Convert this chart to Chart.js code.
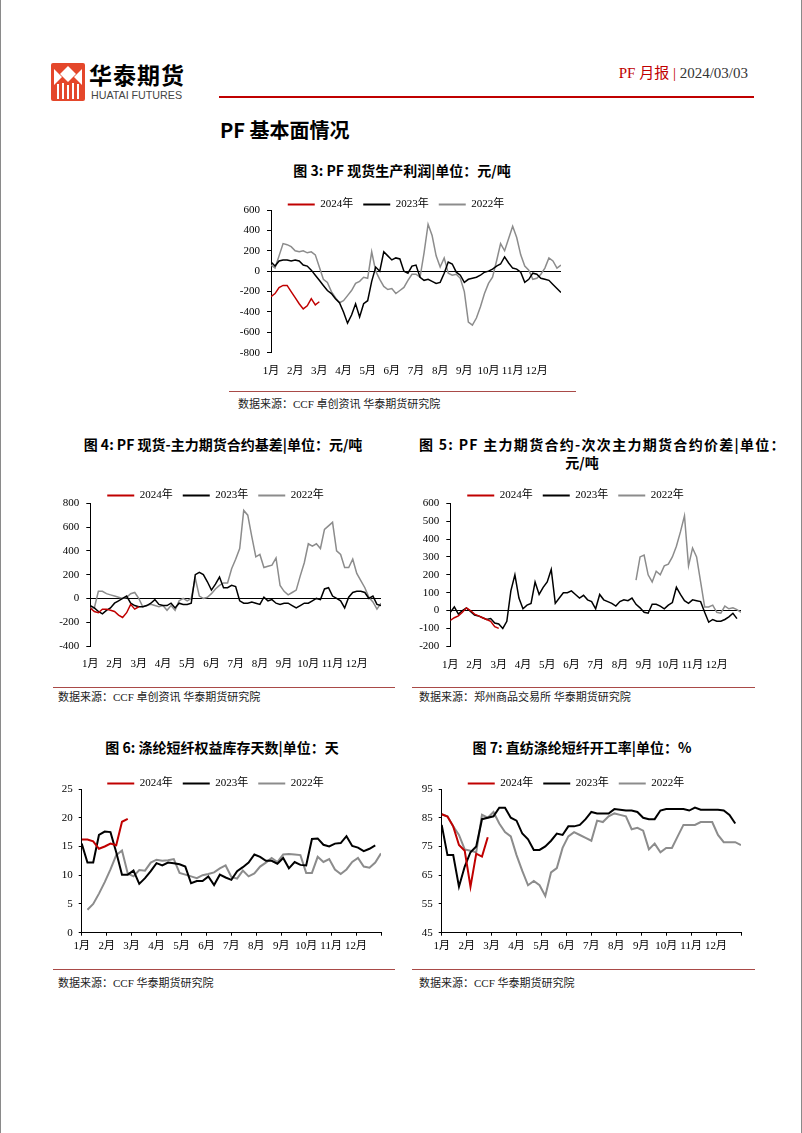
<!DOCTYPE html>
<html lang="zh-CN">
<head>
<meta charset="utf-8">
<title>PF 月报</title>
<script src="https://cdn.jsdelivr.net/npm/chart.js@4.4.1/dist/chart.umd.min.js"></script>
<style>
  html, body { margin: 0; padding: 0; background: #fff; }
  #page { position: relative; width: 802px; height: 1133px; overflow: hidden;
          box-sizing: border-box; border-left: 1px solid #8a8a8a; border-right: 1px solid #8a8a8a;
          font-family: "Noto Sans CJK SC", sans-serif; color: #000; }
  .abs { position: absolute; white-space: nowrap; }
  .brand { left: 88px; top: 60px; font-size: 23px; font-weight: 700; letter-spacing: 1px; line-height: 28px; }
  .brand-en { left: 90px; top: 89px; font-family: "Liberation Sans", sans-serif; font-size: 10.7px; color: #444; line-height: 12px; }
  .hdr { right: 53px; top: 63px; font-family: "Liberation Serif", "Noto Sans CJK SC", serif; font-size: 15px; line-height: 20px; color: #333; }
  .hdr .red { color: #c00000; }
  .rule { left: 218px; top: 96px; width: 535px; height: 2px; background: #c00000; }
  .section { left: 219px; top: 117px; font-size: 20px; font-weight: 700; line-height: 26px; }
  .ftitle { font-size: 14px; font-weight: 700; line-height: 18px; text-align: center; transform: translateX(-50%); }
  .ftitle.wide { transform: none; letter-spacing: 1.3px; }
  .src { font-family: "Liberation Serif", "Noto Sans CJK SC", serif; font-size: 11px; line-height: 14px; color: #222; }
  .srcline { height: 1px; background: #a94a47; }
  canvas { position: absolute; }
</style>
</head>
<body>
<div id="page">
  <svg class="abs" style="left:50px;top:63px" width="34" height="38" viewBox="0 0 34 38">
    <rect width="34" height="38" rx="2" fill="#e4472b"/>
    <path d="M17 3 L25 11 L17 19 L9 11 Z" fill="#fff"/>
    <path d="M3 6 L11 14 L3 22 Z" fill="#fff"/>
    <path d="M31 6 L23 14 L31 22 Z" fill="#fff"/>
    <rect x="6" y="21" width="2" height="15" fill="#fff"/>
    <rect x="11" y="20" width="2" height="16" fill="#fff"/>
    <rect x="16" y="22" width="2" height="14" fill="#fff"/>
    <rect x="21" y="20" width="2" height="16" fill="#fff"/>
    <rect x="26" y="21" width="2" height="15" fill="#fff"/>
  </svg>
  <div class="abs brand">华泰期货</div>
  <div class="abs brand-en">HUATAI FUTURES</div>
  <div class="abs hdr"><span class="red">PF 月报 | </span>2024/03/03</div>
  <div class="abs rule"></div>
  <div class="abs section">PF 基本面情况</div>

  <div class="abs ftitle" style="left:401px;top:161px">图 3: PF 现货生产利润|单位：元/吨</div>
  <div class="abs ftitle" style="left:222px;top:435px">图 4: PF 现货-主力期货合约基差|单位：元/吨</div>
  <div class="abs ftitle wide" style="left:418px;top:435px">图 5: PF 主力期货合约-次次主力期货合约价差|单位：</div>
  <div class="abs ftitle" style="left:581px;top:453px">元/吨</div>
  <div class="abs ftitle" style="left:221px;top:738px">图 6: 涤纶短纤权益库存天数|单位：天</div>
  <div class="abs ftitle" style="left:581px;top:738px">图 7: 直纺涤纶短纤开工率|单位：%</div>

  <canvas id="c3"></canvas>
  <canvas id="c4"></canvas>
  <canvas id="c5"></canvas>
  <canvas id="c6"></canvas>
  <canvas id="c7"></canvas>

  <div class="abs srcline" style="left:228px;top:391px;width:347px"></div>
  <div class="abs src" style="left:237px;top:397px">数据来源：CCF 卓创资讯 华泰期货研究院</div>
  <div class="abs srcline" style="left:52px;top:687px;width:342px"></div>
  <div class="abs src" style="left:57px;top:690px">数据来源：CCF 卓创资讯 华泰期货研究院</div>
  <div class="abs srcline" style="left:411px;top:687px;width:343px"></div>
  <div class="abs src" style="left:418px;top:690px">数据来源：郑州商品交易所 华泰期货研究院</div>
  <div class="abs srcline" style="left:52px;top:969px;width:342px"></div>
  <div class="abs src" style="left:57px;top:976px">数据来源：CCF 华泰期货研究院</div>
  <div class="abs srcline" style="left:411px;top:969px;width:343px"></div>
  <div class="abs src" style="left:418px;top:976px">数据来源：CCF 华泰期货研究院</div>
</div>

<script>
// x 轴单位为月（0 = 1月初），日度数据约每 5 天一个点，周度数据每周一个点
const monthLabels = ['1月', '2月', '3月', '4月', '5月', '6月', '7月', '8月', '9月', '10月', '11月', '12月'];
const dayStep = 1 / 6;
const weekStep = 12 / 52;

// 图3 现货生产利润
const profit2024 = [-250, -220, -160, -140, -140, -200, -260, -320, -370, -340, -270, -330, -300];
const profit2023 = [90, 50, 100, 110, 110, 100, 110, 100, 60, 50, 10, -40, -90, -140, -190, -220, -270, -310, -400, -510,
  -430, -320, -450, -320, -290, -100, 40, 0, 190, 150, 110, 130, 120, 0, -20, 50, 60, -60, -90, -80,
  -100, -120, -110, -20, 90, 70, -10, -40, -110, -80, -70, -60, -40, -10, 0, 20, 50, 70, 140, 80,
  30, 20, -10, -110, -80, -20, -30, -70, -80, -90, -130, -170, -210];
const profit2022 = [60, 30, 150, 270, 260, 240, 200, 190, 200, 180, 190, 160, 40, -80, -110, -200, -260, -310, -290, -240,
  -190, -120, -100, -60, -70, 190, 0, -80, -150, -180, -170, -220, -190, -160, -90, -30, -30, -60, 180, 460,
  350, 150, 40, 130, -20, -40, -30, -70, -200, -500, -530, -460, -350, -220, -120, -60, 100, 270, 200, 320,
  440, 330, 160, 50, 10, -80, -70, -30, 30, 130, 100, 30, 60];

// 图4 现货-主力合约基差
const basis2024 = [-80, -110, -120, -90, -90, -100, -110, -140, -160, -120, -50, -90, -70];
const basis2023 = [-60, -80, -110, -130, -100, -80, -40, -20, 0, 20, -40, -60, -70, -70, -60, -40, -10, -50, -60, -60,
  -40, -80, -40, -50, -50, -40, 200, 220, 200, 140, 70, 120, 180, 90, 90, 110, 100, -20, -40, -40,
  -30, -40, -50, 10, -20, -10, -40, -50, -40, -40, -60, -80, -60, -40, -40, -20, 0, -10, 80, 90,
  20, 0, -20, -80, 10, 50, 60, 60, 50, 0, 20, -50, -60];
const basis2022 = [-80, -80, 60, 60, 40, 30, 20, 10, 0, 10, 40, 50, 0, -70, -60, -50, -60, -70, -60, -100,
  -60, -100, -20, 0, -20, 0, 170, 20, 0, 10, 40, 80, 110, 130, 130, 250, 330, 420, 740, 700,
  520, 350, 370, 260, 270, 280, 340, 110, 60, 30, 50, 70, 190, 300, 460, 440, 460, 420, 580, 610,
  640, 400, 370, 260, 260, 330, 210, 150, 90, 10, -30, -90, -40];

// 图5 主力-次次主力价差
const spread2024 = [-55, -40, -30, -10, 15, 0, -20, -30, -40, -50, -60, -90, -100];
const spread2023 = [-10, 20, -20, 0, 15, -5, -25, -30, -40, -50, -45, -70, -75, -100, -60, 110, 200, 70, 10, 30,
  40, 160, 90, 130, 160, 230, 40, 70, 100, 100, 110, 90, 70, 85, 60, 50, 10, 90, 60, 50,
  40, 25, 50, 60, 55, 70, 35, 15, -10, -15, 35, 35, 25, 10, 30, 45, 130, 90, 55, 40,
  60, 55, 50, -10, -65, -50, -60, -60, -50, -35, -15, -45];
const spread2022Start = 46;
const spread2022 = [170, 300, 310, 200, 160, 220, 200, 250, 260, 300, 360, 440, 530, 250, 350, 300, 160, 20, 20, 30,
  -10, -15, 25, 10, 15, 5, -10];

// 图6 权益库存天数（周度）
const stock2024 = [16.2, 16.2, 15.9, 14.6, 15.0, 15.5, 15.2, 19.3, 19.8];
const stock2023 = [15.5, 12.2, 12.2, 17.0, 17.6, 17.5, 14.0, 10.1, 10.1, 10.8, 8.5, 9.5, 10.7, 12.1, 11.7, 12.2, 12.1, 11.9, 11.5, 8.6,
  9.0, 9.0, 9.8, 8.3, 10.1, 9.6, 9.2, 10.7, 11.4, 12.2, 13.6, 13.2, 12.5, 12.5, 12.0, 13.0, 11.2, 12.3, 11.8, 11.7,
  16.3, 16.4, 15.3, 15.0, 15.5, 15.6, 16.8, 15.1, 14.8, 14.2, 14.6, 15.2];
const stock2022Start = 1;
const stock2022 = [4.0, 5.0, 6.8, 8.8, 11.0, 13.5, 14.3, 10.3, 9.8, 10.9, 10.8, 12.2, 12.7, 12.5, 12.6, 12.8, 10.4, 10.1, 9.8, 9.5,
  10.0, 10.2, 10.5, 11.2, 11.7, 9.7, 9.4, 10.8, 9.8, 10.3, 11.5, 12.2, 13.0, 12.3, 13.6, 13.7, 13.6, 13.5, 10.4, 10.4,
  13.2, 12.3, 12.8, 11.0, 10.2, 11.0, 12.3, 13.0, 11.5, 11.3, 12.2, 13.8];

// 图7 直纺涤短开工率（周度）
const rate2024 = [86.2, 85.4, 82.0, 75.5, 73.5, 61.0, 72.5, 71.5, 78.2];
const rate2023 = [82.5, 72, 72, 61, 68, 73, 75, 84.5, 85, 85.5, 88.5, 88.5, 85, 84, 79.5, 77.5, 73.8, 73.8, 75, 77,
  79.5, 79, 82, 82, 82.5, 84.5, 87, 86.5, 86.5, 86.5, 88, 87.8, 87.5, 87.5, 87, 85, 84.5, 84.5, 87.5, 88,
  88, 88, 88, 87.5, 88.5, 87.8, 87.8, 87.8, 87.8, 87.5, 86, 83];
const rate2022 = [86.2, 85.5, 82, 79, 74, 73.5, 73, 86, 85, 87, 83, 80, 78.5, 72, 66.5, 61.5, 63, 61.5, 57.8, 66,
  67.5, 74.5, 78.5, 80, 79, 78, 77, 84, 83.5, 85.5, 86.5, 86, 85.5, 81, 81.5, 80.5, 74, 76, 73, 74.5,
  74.5, 78.5, 82.5, 82.5, 82.5, 83.5, 83.5, 83.5, 79, 76.5, 76.5, 76.5, 75.5];

const FONT = '"Liberation Serif", "Noto Sans CJK SC", serif';
const RED = '#c00000';
const BLACK = '#000000';
const GRAY = '#8c8c8c';

Chart.defaults.color = '#000';
Chart.defaults.font.family = FONT;
Chart.defaults.font.size = 11;

function toPoints(values, step, start) {
  return values.map((v, i) => ({ x: (start + i) * step, y: v }));
}

function series(label, values, color, width, step, start = 0) {
  return {
    label,
    data: toPoints(values, step, start),
    borderColor: color,
    backgroundColor: color,
    borderWidth: width,
    pointRadius: 0,
    tension: 0
  };
}

// plot: 绘图区在页面上的位置；legend: 图例中心（画布左右对称于图例中心）
function drawChart(id, plot, legend, yScale, datasets, daily) {
  const R = Math.round(plot.r + 16);
  const L = Math.round(2 * legend.x - R);
  const T = Math.floor(legend.y - 15.5);
  const B = Math.ceil(plot.b + 24);
  const yWidth = plot.l - L;
  const legendH = plot.t - T;
  const xHeight = B - plot.b;

  const canvas = document.getElementById(id);
  canvas.width = R - L;
  canvas.height = B - T;
  canvas.style.left = L + 'px';
  canvas.style.top = T + 'px';

  new Chart(canvas, {
    type: 'line',
    data: { datasets },
    options: {
      responsive: false,
      animation: false,
      devicePixelRatio: 1,
      layout: { padding: { left: 0, right: R - plot.r, top: 0, bottom: 0 } },
      plugins: {
        tooltip: { enabled: false },
        legend: {
          position: 'top',
          labels: {
            boxWidth: 27,
            boxHeight: 2,
            padding: 10,
            color: '#000',
            font: { family: FONT, size: 11 },
            generateLabels: (chart) =>
              Chart.defaults.plugins.legend.labels.generateLabels(chart).map(l => ({ ...l, lineWidth: 0 }))
          }
        }
      },
      scales: {
        x: {
          type: 'linear',
          min: 0,
          max: 12,
          afterFit: (s) => { s.height = xHeight; },
          border: { display: !daily, color: '#000', width: 1 },
          grid: daily
            ? { display: false }
            : { display: true, drawOnChartArea: false, color: '#000', tickColor: '#000', tickLength: 3 },
          ticks: {
            stepSize: 1,
            autoSkip: false,
            maxRotation: 0,
            padding: 4,
            font: { family: FONT, size: 11 },
            callback: (v) => monthLabels[v] || ''
          }
        },
        y: {
          min: yScale.min,
          max: yScale.max,
          afterFit: (s) => { s.width = yWidth; },
          border: { display: true, color: '#000', width: 1 },
          grid: daily
            ? { color: (c) => (c.tick && c.tick.value === 0 ? '#000' : 'rgba(0,0,0,0)'), tickColor: '#000', tickLength: 4 }
            : { drawOnChartArea: false, color: '#000', tickColor: '#000', tickLength: 3 },
          ticks: {
            stepSize: yScale.step,
            padding: daily ? 7 : 6,
            font: { family: FONT, size: 11 }
          }
        }
      }
    },
    plugins: [{
      id: 'legendHeight',
      beforeInit(chart) {
        const fit = chart.legend.fit;
        chart.legend.fit = function () {
          fit.call(this);
          this.height = legendH;
        };
      }
    }]
  });
}

drawChart('c3', { l: 270, r: 560, t: 210, b: 352.7 }, { x: 403, y: 205 }, { min: -800, max: 600, step: 200 }, [
  series('2024年', profit2024, RED, 1.5, dayStep),
  series('2023年', profit2023, BLACK, 1.5, dayStep),
  series('2022年', profit2022, GRAY, 1.5, dayStep)
], true);

drawChart('c4', { l: 89.3, r: 380, t: 503.3, b: 646 }, { x: 222.5, y: 495.7 }, { min: -400, max: 800, step: 200 }, [
  series('2024年', basis2024, RED, 1.5, dayStep),
  series('2023年', basis2023, BLACK, 1.5, dayStep),
  series('2022年', basis2022, GRAY, 1.5, dayStep)
], true);

drawChart('c5', { l: 449.3, r: 740, t: 503.3, b: 646.3 }, { x: 582.5, y: 495.7 }, { min: -200, max: 600, step: 100 }, [
  series('2024年', spread2024, RED, 1.5, dayStep),
  series('2023年', spread2023, BLACK, 1.5, dayStep),
  series('2022年', spread2022, GRAY, 1.5, dayStep, spread2022Start)
], true);

drawChart('c6', { l: 80.7, r: 380, t: 789, b: 932.7 }, { x: 222.5, y: 784 }, { min: 0, max: 25, step: 5 }, [
  series('2024年', stock2024, RED, 2, weekStep),
  series('2023年', stock2023, BLACK, 2, weekStep),
  series('2022年', stock2022, GRAY, 2, weekStep, stock2022Start)
], false);

drawChart('c7', { l: 440.7, r: 740, t: 789, b: 932.7 }, { x: 582.8, y: 784 }, { min: 45, max: 95, step: 10 }, [
  series('2024年', rate2024, RED, 2, weekStep),
  series('2023年', rate2023, BLACK, 2, weekStep),
  series('2022年', rate2022, GRAY, 2, weekStep)
], false);
</script>
</body>
</html>
